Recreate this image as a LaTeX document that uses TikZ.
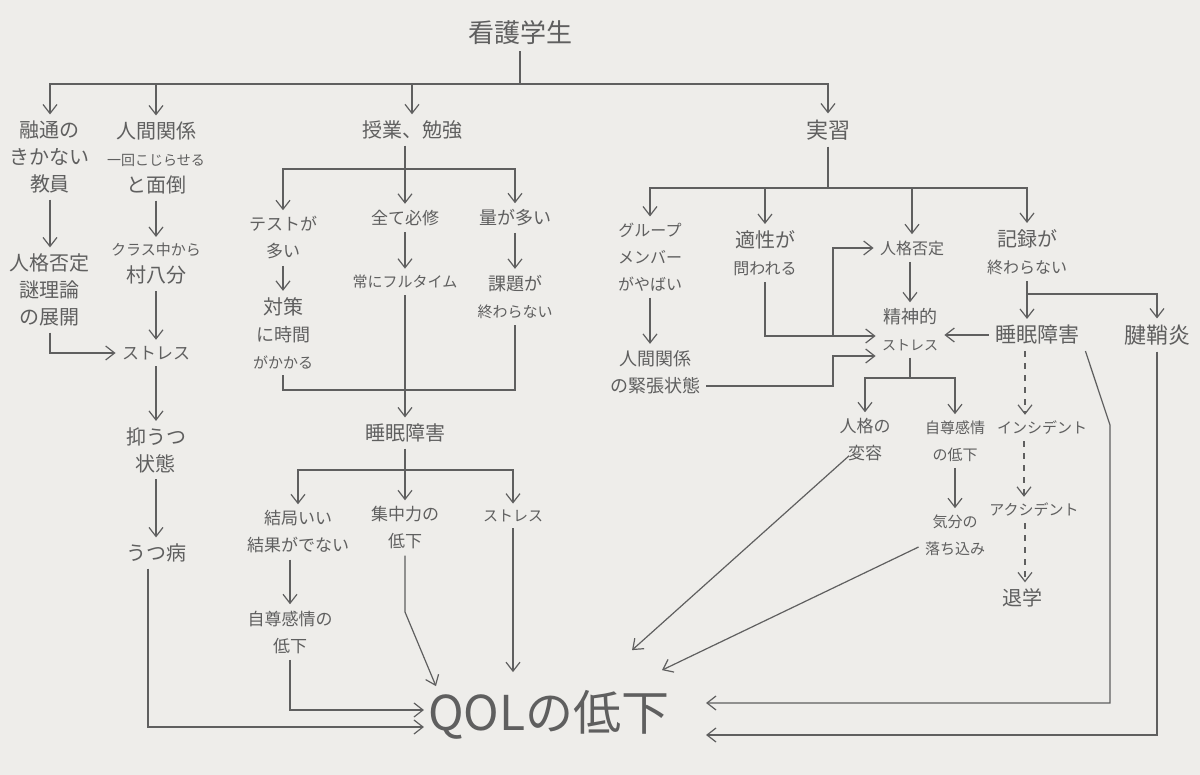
\documentclass[tikz,border=0pt]{standalone}
\usepackage{fontspec}
\setmainfont{Noto Sans CJK JP}
\usepackage{xcolor}
\definecolor{pencil}{RGB}{95,95,95}
\definecolor{paper}{RGB}{238,237,234}
\usetikzlibrary{arrows.meta}
\newcommand\fsz[1]{\fontsize{#1}{13.5}\selectfont}

\begin{document}
\begin{tikzpicture}[x=0.5pt,y=-0.5pt,font=\fsz{10},
  lbl/.style={align=center,text=pencil,inner sep=3pt},
  ln/.style={draw=pencil,line width=0.6pt},
  arr/.style={ln,-{Straight Barb[length=4.5pt,width=7pt]}},
  darr/.style={arr,dashed}]
  % Papier
  \fill[paper] (0,0) rectangle (1200,775);
  % Haut
  \node[lbl,font=\fsz{13}] (kango) at (520,33) {看護学生};
  \node[lbl] (yuzu) at (50,157) {融通の\\きかない\\教員};
  \node[lbl] (ningen) at (156,158) {人間関係\\{\fsz{7}一回こじらせる}\\と面倒};
  \node[lbl] (jugyo) at (412,130) {授業、勉強};
  \node[lbl,font=\fsz{11}] (jisshu) at (828,130) {実習};
  \coordinate (kbus) at (520,84);
  \draw[ln] (kango) -- (kbus);
  \draw[arr] (kbus) -| (yuzu);
  \draw[arr] (kbus) -| (ningen);
  \draw[arr] (kbus) -| (jugyo);
  \draw[arr] (kbus) -| (jisshu);
  % Colonne gauche
  \node[lbl] (hitei) at (50,290) {人格否定\\謎理論\\の展開};
  \node[lbl] (mura) at (156,264) {{\fsz{7.5}クラス中から}\\村八分};
  \node[lbl,font=\fsz{8.5}] (stressA) at (156,353) {ストレス};
  \node[lbl] (yoku) at (156,450) {抑うつ\\状態};
  \node[lbl] (utsu) at (156,553) {うつ病};
  \draw[arr] (yuzu) -- (hitei);
  \draw[arr] (hitei.south) |- (stressA);
  \draw[arr] (ningen) -- (mura);
  \draw[arr] (mura) -- (stressA);
  \draw[arr] (stressA) -- (yoku);
  \draw[arr] (yoku) -- (utsu);
  % Cours
  \node[lbl,font=\fsz{8.5}] (test) at (283,238) {テストが\\多い};
  \node[lbl] (taisaku) at (283,333) {対策\\{\fsz{9}に時間}\\{\fsz{7.5}がかかる}};
  \node[lbl,font=\fsz{8.5}] (hisshu) at (405,218) {全て必修};
  \node[lbl,font=\fsz{7.5}] (fulltime) at (405,282) {常にフルタイム};
  \node[lbl,font=\fsz{9}] (ryo) at (515,218) {量が多い};
  \node[lbl,font=\fsz{9}] (kadai) at (515,297) {課題が\\{\fsz{7.5}終わらない}};
  \node[lbl] (sleepA) at (405,433) {睡眠障害};
  \coordinate (jbus) at (405,169);
  \coordinate (jjoin) at (405,390);
  \draw[arr] (jugyo.south -| hisshu) -- (hisshu);
  \draw[arr] (jbus) -| (test);
  \draw[arr] (jbus) -| (ryo);
  \draw[arr] (test) -- (taisaku);
  \draw[arr] (hisshu) -- (fulltime);
  \draw[arr] (ryo) -- (kadai);
  \draw[arr] (fulltime) -- (sleepA);
  \draw[ln] (taisaku.south) |- (jjoin);
  \draw[ln] (kadai.south) |- (jjoin);
  % Sommeil
  \node[lbl,font=\fsz{8.5}] (kekka) at (298,532) {結局いい\\結果がでない};
  \node[lbl,font=\fsz{8.5}] (shuchu) at (405,528) {集中力の\\低下};
  \node[lbl,font=\fsz{7.5}] (stressB) at (513,516) {ストレス};
  \node[lbl,font=\fsz{8.5}] (jisonA) at (290,632) {自尊感情の\\低下};
  \coordinate (sbusA) at (405,470);
  \draw[arr] (sleepA) -- (shuchu);
  \draw[arr] (sbusA) -| (kekka);
  \draw[arr] (sbusA) -| (stressB);
  \draw[arr] (kekka.south -| jisonA) -- (jisonA);
  % QOL
  \node[lbl,font=\fsz{24},inner sep=2pt] (qol) at (549,715) {QOLの低下};
  \coordinate (cbend) at (405,612);
  \draw[arr] ([xshift=-4pt]utsu.south) |- ([yshift=-6pt]qol.west);
  \draw[arr] (jisonA.south) |- ([yshift=2.5pt]qol.west);
  \draw[arr] (shuchu) -- (cbend) -- ([xshift=6pt]qol.north west);
  \draw[arr,shorten >=7pt] (stressB) -- (stressB |- qol.north);
  % Stage
  \node[lbl,font=\fsz{8}] (group) at (650,257) {グループ\\メンバー\\がやばい};
  \node[lbl,font=\fsz{9}] (kincho) at (655,372) {人間関係\\の緊張状態};
  \node[lbl] (tekisei) at (765,253) {適性が\\{\fsz{8}問われる}};
  \node[lbl,font=\fsz{8}] (hiteiB) at (912,248) {人格否定};
  \node[lbl] (kiroku) at (1027,252) {記録が\\{\fsz{8}終わらない}};
  \node[lbl,font=\fsz{9}] (seishin) at (910,330) {精神的\\{\fsz{7}ストレス}};
  \node[lbl,font=\fsz{10.5}] (sleepB) at (1037,335) {睡眠障害};
  \node[lbl,font=\fsz{11}] (kensho) at (1157,335) {腱鞘炎};
  \coordinate (jbusB) at (828,188);
  \coordinate (tsplit) at (833,336);
  \coordinate (kbend) at (833,386);
  \coordinate (kjoin) at (1027,294);
  \draw[ln] (jisshu) -- (jbusB);
  \draw[arr] (jbusB) -| (group);
  \draw[arr] (jbusB) -| (tekisei);
  \draw[arr] (jbusB) -| (hiteiB);
  \draw[arr] (jbusB) -| (kiroku);
  \draw[arr] (group.south) -- (group.south |- kincho.north);
  \draw[ln] (tekisei.south) |- (tsplit);
  \draw[arr] (tsplit) -- (tsplit -| seishin.west);
  \draw[arr] (tsplit) |- (hiteiB);
  \draw[arr] ([yshift=-7pt]kincho.east) -- (kbend) |- ([yshift=-13pt]seishin.west);
  \draw[arr] (hiteiB.south -| seishin) -- (seishin);
  \draw[ln] (kiroku.south) -- (kjoin);
  \draw[arr] (kjoin) -- (kjoin |- sleepB.north);
  \draw[arr] (kjoin) -| (kensho);
  \draw[arr] (sleepB.west) -- (sleepB.west -| seishin.east);
  % Suites
  \node[lbl,font=\fsz{8.5}] (henyo) at (865,440) {人格の\\変容};
  \node[lbl,font=\fsz{7.5}] (jisonB) at (955,441) {自尊感情\\の低下};
  \node[lbl,font=\fsz{7.5}] (incident) at (1042,428) {インシデント};
  \node[lbl,font=\fsz{7.5}] (kibun) at (955,535) {気分の\\落ち込み};
  \node[lbl,font=\fsz{7.5}] (accident) at (1034,510) {アクシデント};
  \node[lbl] (taigaku) at (1022,598) {退学};
  \coordinate (sbusB) at (910,378);
  \coordinate (sbend) at (1110,425);
  \draw[ln] (seishin) -- (sbusB);
  \draw[arr] (sbusB) -| (henyo);
  \draw[arr] (sbusB) -| (jisonB);
  \draw[arr] (jisonB) -- (kibun);
  \draw[darr] ([xshift=-6pt]sleepB.south) -- ([xshift=-6pt]sleepB.south |- incident.north);
  \draw[darr] ([xshift=-9pt]incident.south) -- ([xshift=-9pt]incident.south |- accident.north);
  \draw[darr] ([xshift=-4.5pt]accident.south) -- ([xshift=-4.5pt]accident.south |- taigaku.north);
  \draw[arr] ([shift={(8pt,6pt)}]henyo.south west) -- ([shift={(-21pt,18pt)}]qol.north east);
  \draw[arr] ([yshift=-6pt]kibun.west) -- ([shift={(-6pt,8pt)}]qol.north east);
  \draw[arr,shorten >=16pt] (sleepB.south east) -- (sbend) |- ([yshift=6pt]qol.east);
  \draw[arr,shorten >=16pt] (kensho) |- ([yshift=-10pt]qol.east);
\end{tikzpicture}
\end{document}
